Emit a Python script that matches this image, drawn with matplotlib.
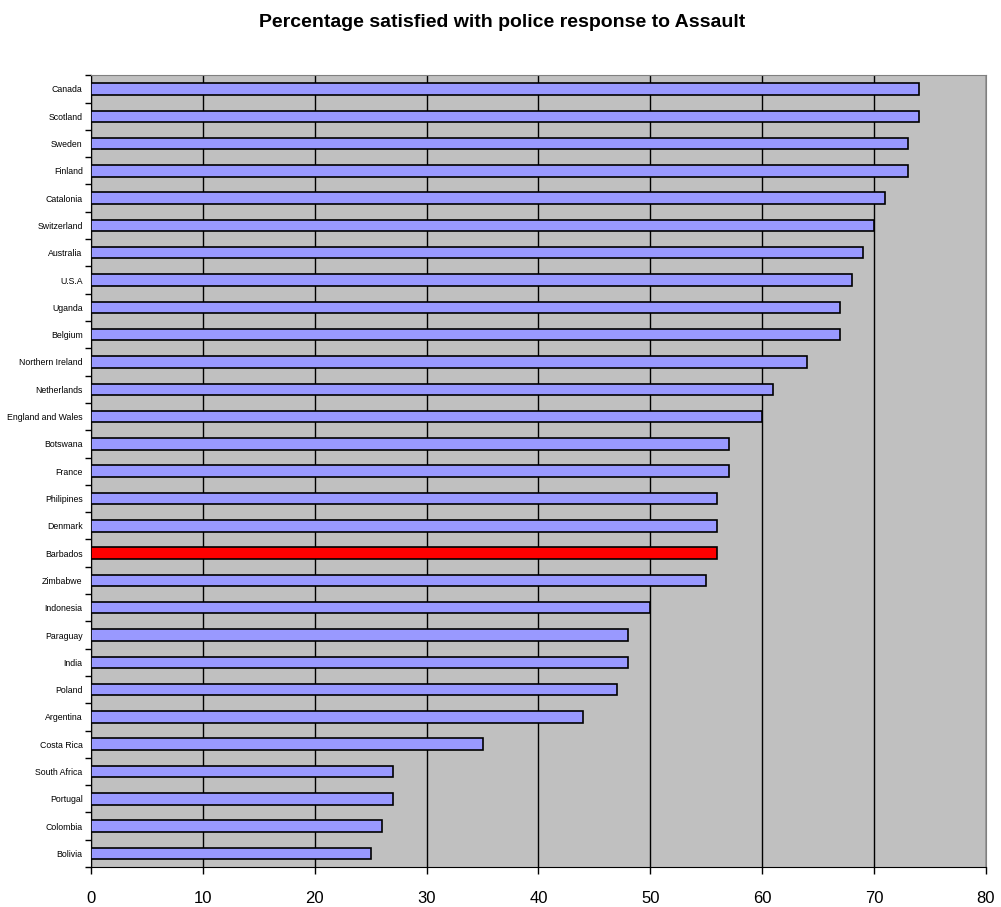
import numpy as np
import matplotlib.pyplot as plt
from matplotlib.ticker import FixedLocator, NullFormatter

# Data (top to bottom as shown)
countries = ['Canada', 'Scotland', 'Sweden', 'Finland', 'Catalonia', 'Switzerland',
             'Australia', 'U.S.A', 'Uganda', 'Belgium', 'Northern Ireland', 'Netherlands',
             'England and Wales', 'Botswana', 'France', 'Philipines', 'Denmark', 'Barbados',
             'Zimbabwe', 'Indonesia', 'Paraguay', 'India', 'Poland', 'Argentina',
             'Costa Rica', 'South Africa', 'Portugal', 'Colombia', 'Bolivia']
satisfied = [74, 74, 73, 73, 71, 70, 69, 68, 67, 67, 64, 61, 60, 57, 57, 56, 56, 56,
             55, 50, 48, 48, 47, 44, 35, 27, 27, 26, 25]
highlight = 'Barbados'
xticks = [0, 10, 20, 30, 40, 50, 60, 70, 80]

n = len(countries)
ypos = np.arange(n)[::-1]
colors = ['#FF0000' if c == highlight else '#9999FF' for c in countries]

fig = plt.figure(figsize=(10.01, 9.07), dpi=100)
ax = fig.add_axes([0.0909, 0.044, 0.894, 0.873])
ax.set_facecolor('#C0C0C0')

ax.barh(ypos, satisfied, height=0.42, color=colors, edgecolor='black', linewidth=1.2, zorder=3)

ax.set_xlim(0, 80)
ax.set_ylim(-0.5, n - 0.5)
ax.set_xticks(xticks)
ax.set_xticklabels([str(t) for t in xticks], fontsize=12, family='Liberation Sans')
ax.tick_params(axis='x', length=5, width=1, pad=12)
ax.grid(axis='x', color='black', linewidth=1, zorder=1)

ax.set_yticks(ypos)
ax.set_yticklabels(countries, fontsize=6.3, family='Liberation Sans')
ax.tick_params(axis='y', which='major', length=0, pad=6)
ax.yaxis.set_minor_locator(FixedLocator(np.arange(-0.5, n, 1.0)))
ax.yaxis.set_minor_formatter(NullFormatter())
ax.tick_params(axis='y', which='minor', length=4, width=1)

for s in ['top', 'right']:
    ax.spines[s].set_color('#808080')
for s in ['left', 'bottom']:
    ax.spines[s].set_color('black')

fig.text(0.502, 0.975, 'Percentage satisfied with police response to Assault',
         ha='center', va='center', fontsize=14, fontweight='bold',
         family='Liberation Sans')

fig.savefig('out.png', dpi=100)
